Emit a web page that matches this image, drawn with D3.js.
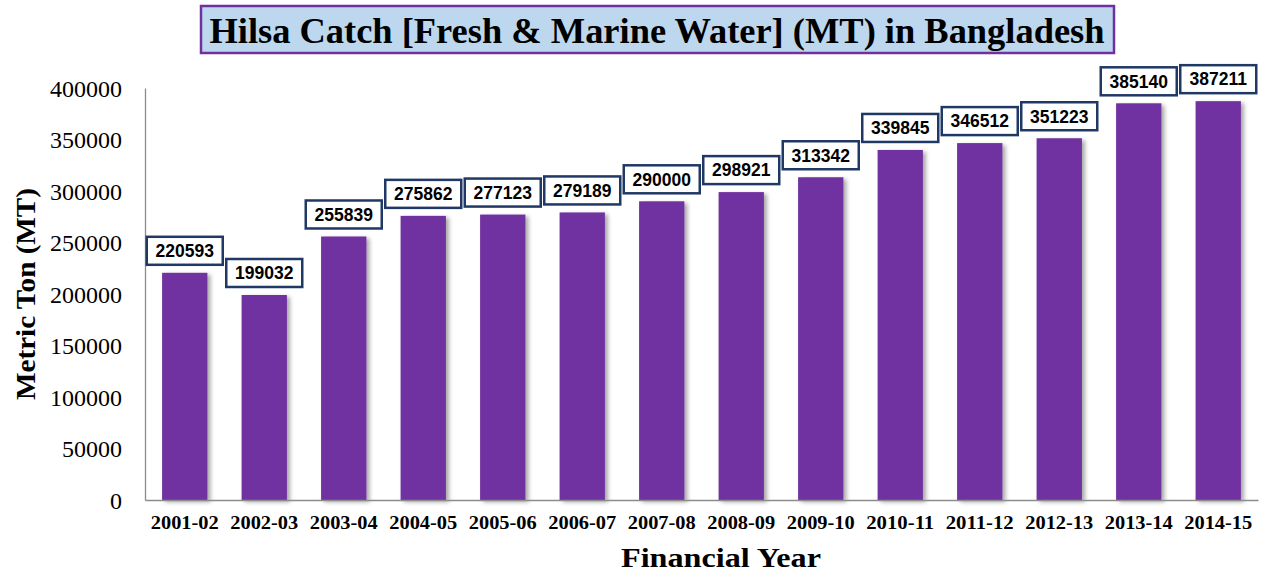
<!DOCTYPE html>
<html>
<head>
<meta charset="utf-8">
<script src="https://cdn.jsdelivr.net/npm/d3@7"></script>
<style>
  body { margin: 0; background: #fff; }
  svg { display: block; }
</style>
</head>
<body>
<div id="wrapper"></div>
<script>
const years = ["2001-02", "2002-03", "2003-04", "2004-05", "2005-06", "2006-07", "2007-08",
               "2008-09", "2009-10", "2010-11", "2011-12", "2012-13", "2013-14", "2014-15"];
const catch_mt = [220593, 199032, 255839, 275862, 277123, 279189, 290000,
                  298921, 313342, 339845, 346512, 351223, 385140, 387211];
const yTicks = [0, 50000, 100000, 150000, 200000, 250000, 300000, 350000, 400000];

const serif = "'Liberation Serif', 'Times New Roman', serif";

const width = 1262, height = 575;
const margin = { top: 88, left: 145, right: 4, bottom: 75 };
const boundedWidth = width - margin.left - margin.right;
const boundedHeight = height - margin.top - margin.bottom;

const svg = d3.select("#wrapper").append("svg")
    .attr("width", width)
    .attr("height", height);

// shadow for the bars
const defs = svg.append("defs");
defs.append("filter")
    .attr("id", "shadow")
    .attr("x", "-20%").attr("width", "150%")
    .attr("y", "-5%").attr("height", "115%")
    .append("feDropShadow")
    .attr("dx", 3).attr("dy", 2)
    .attr("stdDeviation", 2)
    .attr("flood-color", "#000")
    .attr("flood-opacity", 0.35);

const bounded = svg.append("g")
    .attr("transform", `translate(${margin.left},${margin.top})`);

const xScaler = d3.scaleBand()
    .domain(years)
    .range([0, boundedWidth])
    .paddingInner(0.43)
    .paddingOuter(0.215);

const yScaler = d3.scaleLinear()
    .domain([0, 400000])
    .range([boundedHeight, 0]);

// bars
bounded.selectAll("rect.bar")
    .data(years)
    .join("rect")
    .attr("class", "bar")
    .attr("x", d => xScaler(d))
    .attr("width", xScaler.bandwidth())
    .attr("y", (d, i) => yScaler(catch_mt[i]))
    .attr("height", (d, i) => boundedHeight - yScaler(catch_mt[i]))
    .attr("fill", "#7030a0")
    .attr("filter", "url(#shadow)");

// axes
const yAxis = bounded.append("g")
    .call(d3.axisLeft(yScaler).tickValues(yTicks).tickSize(0).tickPadding(23).tickFormat(d3.format("d")));
yAxis.select(".domain").attr("stroke", "#8c8c8c").attr("stroke-width", 1.3);
yAxis.selectAll("text")
    .attr("font-family", serif)
    .attr("font-size", 24)
    .attr("dy", "0.35em")
    .attr("fill", "#000");

const xAxis = bounded.append("g")
    .attr("transform", `translate(0,${boundedHeight})`)
    .call(d3.axisBottom(xScaler).tickSize(0).tickPadding(16));
xAxis.select(".domain").attr("stroke", "#8c8c8c").attr("stroke-width", 1.3);
xAxis.selectAll("text")
    .attr("font-family", serif)
    .attr("font-weight", "bold")
    .attr("font-size", 18)
    .attr("textLength", 68)
    .attr("lengthAdjust", "spacingAndGlyphs")
    .attr("fill", "#000");

// value labels in boxes
const labels = bounded.selectAll("g.lbl")
    .data(years)
    .join("g")
    .attr("class", "lbl")
    .attr("transform", (d, i) => `translate(${xScaler(d) + xScaler.bandwidth() / 2},${yScaler(catch_mt[i]) - 22})`);

labels.append("rect")
    .attr("x", -38)
    .attr("y", -14)
    .attr("width", 76)
    .attr("height", 28)
    .attr("fill", "#fff")
    .attr("stroke", "#1f3864")
    .attr("stroke-width", 2.5);

labels.append("text")
    .attr("text-anchor", "middle")
    .attr("dy", "0.36em")
    .attr("font-family", "'Liberation Sans', Arial, sans-serif")
    .attr("font-weight", "bold")
    .attr("font-size", 17.5)
    .attr("fill", "#000")
    .text((d, i) => catch_mt[i]);

// title
const title = svg.append("g");
title.append("rect")
    .attr("x", 201)
    .attr("y", 6)
    .attr("width", 913)
    .attr("height", 47)
    .attr("fill", "#bdd7ee")
    .attr("stroke", "#7030a0")
    .attr("stroke-width", 2.5);
title.append("text")
    .attr("x", 657)
    .attr("y", 43)
    .attr("text-anchor", "middle")
    .attr("font-family", serif)
    .attr("font-weight", "bold")
    .attr("font-size", 35)
    .attr("textLength", 895)
    .attr("lengthAdjust", "spacingAndGlyphs")
    .attr("fill", "#000")
    .text("Hilsa Catch [Fresh & Marine Water] (MT) in Bangladesh");

// axis titles
svg.append("text")
    .attr("transform", `translate(35,294) rotate(-90)`)
    .attr("text-anchor", "middle")
    .attr("font-family", serif)
    .attr("font-weight", "bold")
    .attr("font-size", 28)
    .attr("textLength", 212)
    .attr("lengthAdjust", "spacingAndGlyphs")
    .attr("fill", "#000")
    .text("Metric Ton (MT)");

svg.append("text")
    .attr("x", 721)
    .attr("y", 567)
    .attr("text-anchor", "middle")
    .attr("font-family", serif)
    .attr("font-weight", "bold")
    .attr("font-size", 28)
    .attr("textLength", 200)
    .attr("lengthAdjust", "spacingAndGlyphs")
    .attr("fill", "#000")
    .text("Financial Year");
</script>
</body>
</html>
